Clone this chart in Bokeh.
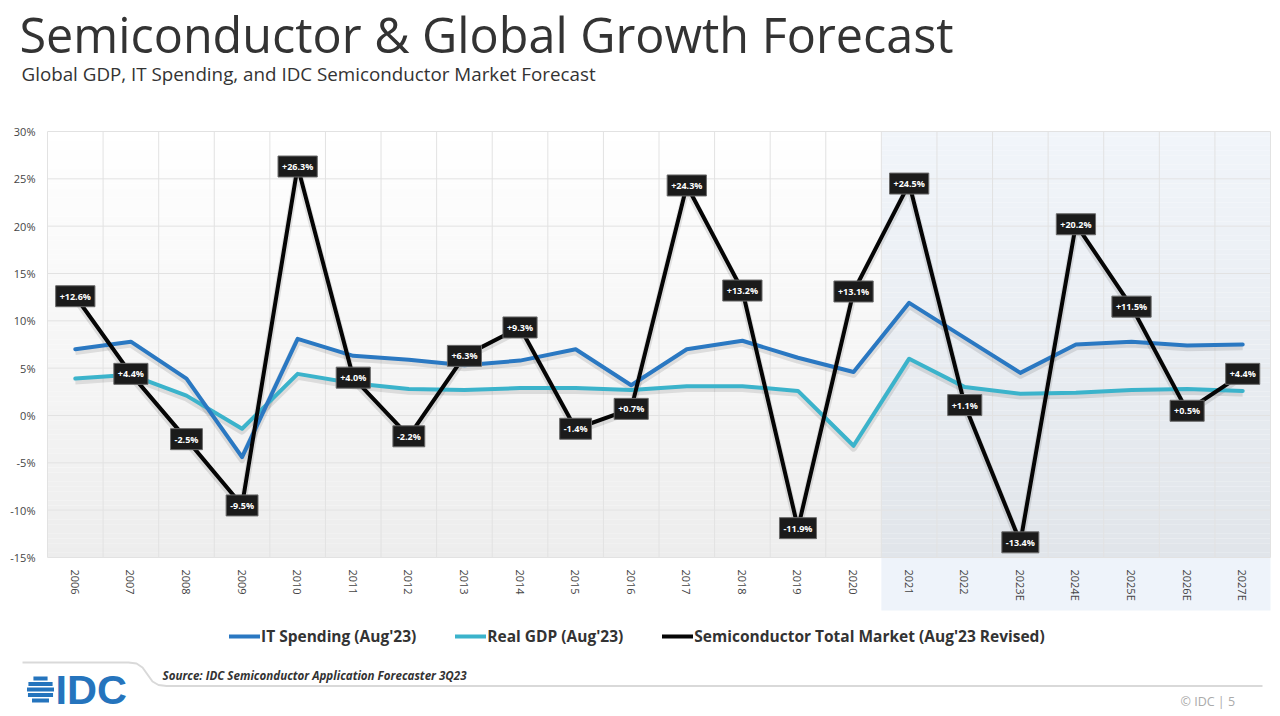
import numpy as np
from bokeh.plotting import figure
from bokeh.models import (Range1d, FixedTicker, PrintfTickFormatter, Legend, LegendItem)
from bokeh.core.properties import value
from bokeh.embed import file_html
from bokeh.resources import INLINE

# ---- data -------------------------------------------------------------------
years = ["2006", "2007", "2008", "2009", "2010", "2011", "2012", "2013", "2014", "2015",
         "2016", "2017", "2018", "2019", "2020", "2021", "2022", "2023E", "2024E",
         "2025E", "2026E", "2027E"]
it_spending = [7.0, 7.8, 3.9, -4.4, 8.1, 6.3, 5.9, 5.3, 5.8, 7.0, 3.2, 7.0, 7.9, 6.1,
               4.6, 11.9, 8.2, 4.5, 7.5, 7.8, 7.4, 7.5]
real_gdp = [3.9, 4.3, 2.1, -1.4, 4.4, 3.4, 2.8, 2.7, 2.9, 2.9, 2.7, 3.1, 3.1, 2.6,
            -3.2, 6.0, 3.0, 2.3, 2.4, 2.7, 2.8, 2.6]
semiconductors = [12.6, 4.4, -2.5, -9.5, 26.3, 4.0, -2.2, 6.3, 9.3, -1.4, 0.7, 24.3,
                  13.2, -11.9, 13.1, 24.5, 1.1, -13.4, 20.2, 11.5, 0.5, 4.4]
y_ticks = [-15, -10, -5, 0, 5, 10, 15, 20, 25, 30]
highlight_from = "2021"

series_names = ["IT Spending (Aug'23)", "Real GDP (Aug'23)",
                "Semiconductor Total Market (Aug'23 Revised)"]

# ---- page geometry (pixels from the top-left of the page) --------------------
W, H = 1280, 716
LEFT, RIGHT = 47, 10               # plotting area spans LEFT .. W-RIGHT
PLOT_TOP, PLOT_BOTTOM = 131, 557   # where the top / bottom y ticks sit
BAND_BOTTOM = 610                  # forecast shading reaches under the year labels
FONT = "Open Sans"
LOGO_FONT = "Liberation Sans"
# distance from the alphabetic baseline to the centre of the em box
EM_MID = {FONT: 0.388, LOGO_FONT: 0.347}

n = len(years)
slot = (W - LEFT - RIGHT) / n                        # width of one year slot
ppu = (PLOT_BOTTOM - PLOT_TOP) / (y_ticks[-1] - y_ticks[0])   # pixels per % point
y_lo, y_hi = y_ticks[0], y_ticks[-1]

# one slot per year, centred on the slot
xs = [i + 0.5 for i in range(n)]

p = figure(width=W, height=H,
           x_range=Range1d(-LEFT / slot, n + RIGHT / slot),
           y_range=Range1d(y_lo - (H - PLOT_BOTTOM) / ppu, y_hi + PLOT_TOP / ppu),
           output_backend="svg", toolbar_location=None, min_border=0)
p.background_fill_color = "white"
p.border_fill_color = "white"
p.outline_line_color = None
# page-pixel coordinates for titles, footer and logo
p.extra_x_ranges = {"px": Range1d(0, W)}
p.extra_y_ranges = {"px": Range1d(H, 0)}
PX = dict(x_range_name="px", y_range_name="px")


def page_text(x, baseline, text, size, font=FONT, **kw):
    """Place a text by its baseline, in page pixels."""
    p.text(x=[x], y=[baseline - EM_MID[font] * size], text=[text],
           text_font=value(font), text_font_size=f"{size}px",
           text_baseline="middle", **kw, **PX)


# ---- plotting-area background -------------------------------------------------
n_bands = 90
edges = np.linspace(y_lo, y_hi, n_bands + 1)
split = years.index(highlight_from)


def mix(c0, c1, f):
    return "#%02x%02x%02x" % tuple(int(round(a + (b - a) * f)) for a, b in zip(c0, c1))


frac = (y_hi - (edges[:-1] + edges[1:]) / 2) / (y_hi - y_lo)
hist_cols = [mix((255, 255, 255), (237, 237, 237), f) for f in frac]
fcst_cols = [mix((241, 245, 250), (225, 229, 234), f) for f in frac]
p.quad(left=0, right=split, bottom=edges[:-1], top=edges[1:], fill_color=hist_cols,
       line_color=None, level="image")
p.quad(left=split, right=n, bottom=edges[:-1], top=edges[1:], fill_color=fcst_cols,
       line_color=None, level="image")
# forecast shading continues under the year labels
p.quad(left=split, right=n, bottom=y_lo - (BAND_BOTTOM - PLOT_BOTTOM) / ppu, top=y_lo,
       fill_color="#eef3fa", line_color=None, level="image")

# grid: horizontal at the ticks, vertical between the years
p.grid.visible = False
bounds = list(range(n + 1))
p.segment(x0=bounds, x1=bounds, y0=y_lo, y1=y_hi, line_color="#e2e2e2", line_width=1,
          level="underlay")
p.segment(x0=0, x1=n, y0=y_ticks, y1=y_ticks, line_color="#e2e2e2", line_width=1,
          level="underlay")

# ---- axes (pinned to the edges of the plotting area) -------------------------
p.xaxis.fixed_location = y_lo
p.yaxis.fixed_location = 0
p.xaxis.ticker = FixedTicker(ticks=xs)
p.xaxis.major_label_overrides = {x: y for x, y in zip(xs, years)}
p.yaxis.ticker = FixedTicker(ticks=y_ticks)
p.yaxis.formatter = PrintfTickFormatter(format="%d%%")
for ax in (p.xaxis[0], p.yaxis[0]):
    ax.axis_line_color = None
    ax.major_tick_line_color = None
    ax.minor_tick_line_color = None
    ax.major_tick_out = 0
    ax.major_tick_in = 0
    ax.minor_tick_out = 0
    ax.major_label_text_font = FONT
    ax.major_label_text_font_size = "11px"
    ax.major_label_text_color = "#444444"
p.yaxis.major_label_standoff = 12
p.xaxis.major_label_orientation = "vertical"
p.xaxis.major_label_standoff = 12

# ---- series -----------------------------------------------------------------
shadow = dict(color="#000000", alpha=0.10, line_width=7, line_join="round")
p.line(xs, [v - 0.25 for v in real_gdp], **shadow)
p.line(xs, [v - 0.25 for v in it_spending], **shadow)
p.line(xs, [v - 0.25 for v in semiconductors], **shadow)

r_gdp = p.line(xs, real_gdp, color="#3bb3cb", line_width=4, line_join="round",
               line_cap="round")
r_it = p.line(xs, it_spending, color="#2a78c2", line_width=4, line_join="round",
              line_cap="round")
r_semi = p.line(xs, semiconductors, color="#050505", line_width=4,
                line_join="round", line_cap="round")

semi_labels = [f"{v:+.1f}%" for v in semiconductors]
p.text(x=xs, y=semiconductors, text=semi_labels, text_align="center",
       text_baseline="middle", text_color="white", text_font=value(FONT),
       text_font_style="bold", text_font_size="9px",
       background_fill_color="#1b1b1b", border_line_color="#6a6a6a",
       border_line_width=1, padding=4)

legend = Legend(items=[LegendItem(label=series_names[0], renderers=[r_it]),
                       LegendItem(label=series_names[1], renderers=[r_gdp]),
                       LegendItem(label=series_names[2], renderers=[r_semi])],
                orientation="horizontal", location=(229, H - 647),
                glyph_width=31, glyph_height=18, label_standoff=1, spacing=39,
                padding=0, margin=0, background_fill_alpha=0,
                border_line_color=None, label_text_font=FONT,
                label_text_font_size="15.5px", label_text_font_style="bold",
                label_text_color="#333333")
p.add_layout(legend, "center")

# ---- titles -----------------------------------------------------------------
page_text(19, 52, "Semiconductor & Global Growth Forecast", 48.5, text_color="#333333")
page_text(21, 81, "Global GDP, IT Spending, and IDC Semiconductor Market Forecast", 18.8,
          text_color="#333333")

# ---- footer -----------------------------------------------------------------
rule_x = [22, 128, 136, 142, 147, 152, 158, 166, 1262]
rule_y = [662, 662, 663, 667, 674, 681, 684.5, 685.5, 685.5]
p.line(rule_x, rule_y, line_color="#d9d9d9", line_width=2, **PX)

page_text(162, 680, "Source: IDC Semiconductor Application Forecaster 3Q23", 11.6,
          text_font_style="bold italic", text_color="#333333")
page_text(1180, 706, "© IDC |  5", 12.5, text_color="#aaaaaa")

# IDC logo: striped globe + wordmark
logo_blue = "#2574bd"
cx, cy, r = 40, 689.5, 13.5
stripe_top = [cy - r + i * 5.5 for i in range(5)]
stripe_half = [max(np.sqrt(max(r * r - (t + 2 - cy) ** 2, 0)), 5) for t in stripe_top]
p.quad(left=[cx - h for h in stripe_half], right=[cx + h for h in stripe_half],
       top=stripe_top, bottom=[t + 4 for t in stripe_top],
       fill_color=logo_blue, line_color=None, **PX)
page_text(55, 703, "IDC", 41.5, font=LOGO_FONT, text_font_style="bold",
          text_color=logo_blue)

open("out.html", "w").write(file_html(p, INLINE))
